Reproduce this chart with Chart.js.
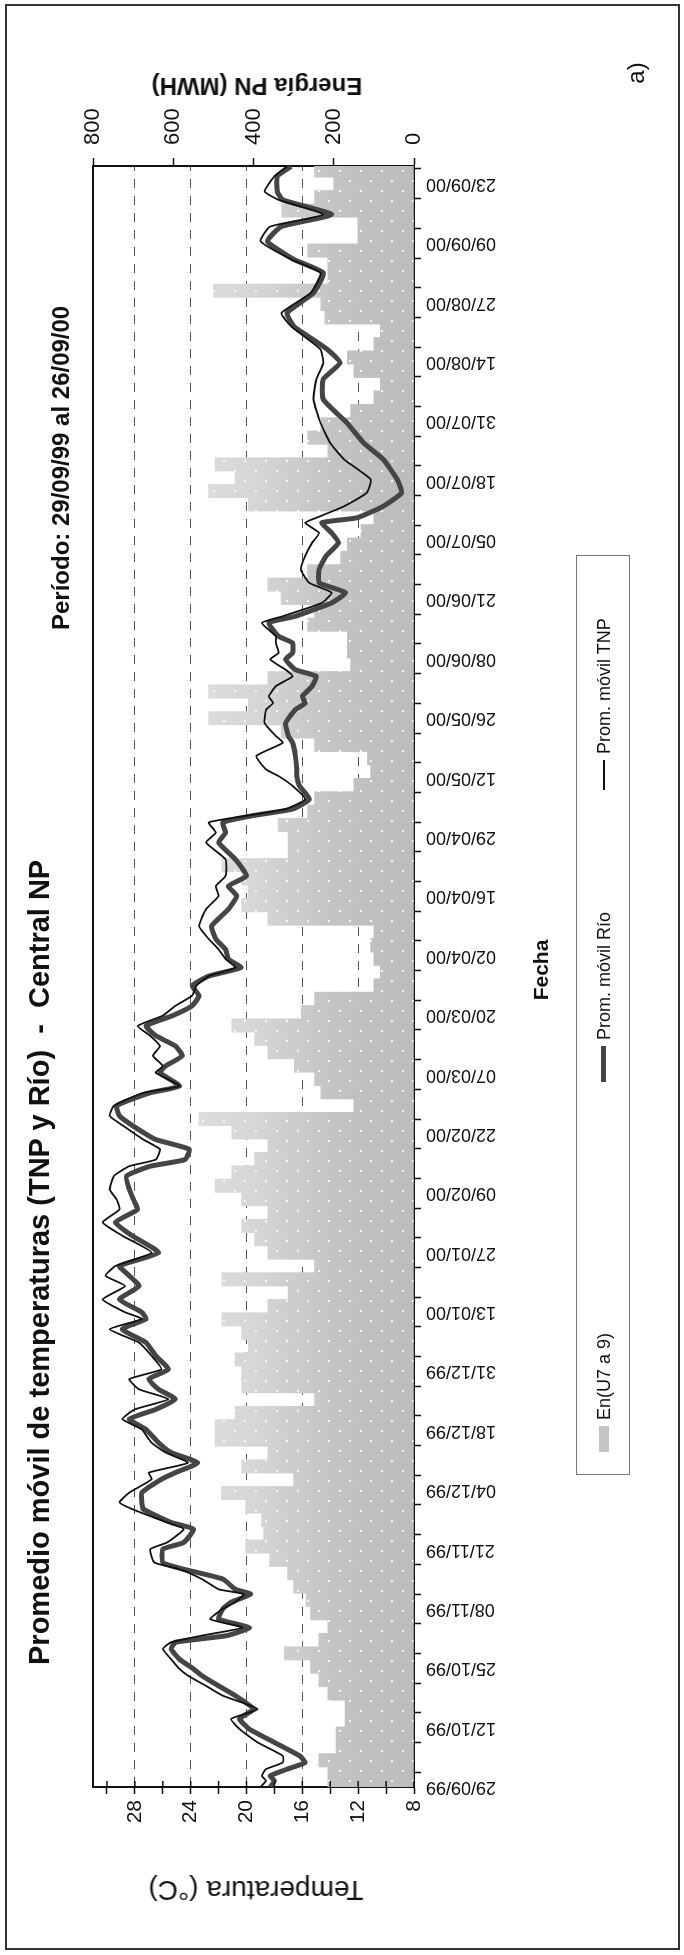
<!DOCTYPE html>
<html>
<head>
<meta charset="utf-8">
<script src="https://cdn.jsdelivr.net/npm/chart.js@4.4.0/dist/chart.umd.min.js"></script>
<style>
  html, body { margin: 0; padding: 0; background: #fff; }
  body { width: 684px; height: 1955px; overflow: hidden; position: relative;
         font-family: "Liberation Sans", Arial, sans-serif; color: #111; }
  /* la hoja se dibuja apaisada y se gira 90° a la izquierda */
  #hoja { position: absolute; left: 0; top: 0; width: 1955px; height: 684px;
          transform-origin: 0 0; transform: translate(0, 1955px) rotate(-90deg); }
  #marco { position: absolute; left: 5px; top: 5px; width: 1946px; height: 675px;
           box-sizing: border-box; border: 2px solid #333; }
  canvas { position: absolute; left: 0; top: 0; }
  .t { position: absolute; white-space: nowrap; }
  #titulo { left: 290px; top: 39px; transform: translateY(-50%); font-weight: bold; font-size: 29px; }
  #periodo { left: 1325px; top: 61px; transform: translateY(-50%); font-weight: bold; font-size: 24px; }
  #tituloTemp { left: 65px; top: 256px; transform: translate(-50%, -50%) rotate(-90deg); font-size: 28px; }
  #tituloEner { left: 1869px; top: 257px; transform: translate(-50%, -50%) rotate(-90deg); font-weight: bold; font-size: 24px; }
  #fecha { left: 985px; top: 541px; transform: translate(-50%, -50%); font-weight: bold; font-size: 21px; }
  #marca { left: 1882px; top: 636px; transform: translate(-50%, -50%); font-size: 24px; }
  #leyenda { position: absolute; left: 480px; top: 576px; width: 920px; height: 54px;
             box-sizing: border-box; border: 1px solid #777; font-size: 18px; }
  #leyenda .t { top: 27px; transform: translateY(-50%); }
  .sw { position: absolute; }
</style>
</head>
<body>
<div id="hoja">
  <div id="marco"></div>
  <canvas id="grafico" width="1955" height="684"></canvas>
  <div class="t" id="titulo">Promedio móvil de temperaturas (TNP y Río)&nbsp;&nbsp;-&nbsp;&nbsp;Central NP</div>
  <div class="t" id="periodo">Período: 29/09/99 al 26/09/00</div>
  <div class="t" id="tituloTemp">Temperatura (°C)</div>
  <div class="t" id="tituloEner">Energía PN (MWH)</div>
  <div class="t" id="fecha">Fecha</div>
  <div class="t" id="marca">a)</div>
  <div id="leyenda">
    <div class="sw" style="left:22px; top:22px; width:26px; height:10px; background:#c4c4c4;"></div>
    <div class="t" style="left:54px;">En(U7 a 9)</div>
    <div class="sw" style="left:392px; top:24px; width:36px; height:5px; background:#454545;"></div>
    <div class="t" style="left:434px;">Prom. móvil Río</div>
    <div class="sw" style="left:684px; top:26px; width:30px; height:2px; background:#111;"></div>
    <div class="t" style="left:720px;">Prom. móvil TNP</div>
  </div>
</div>
<script>
// etiquetas del eje de fechas (una cada 40 registros = 13,33 días)
const etiquetasFecha = ["29/09/99", "12/10/99", "25/10/99", "08/11/99", "21/11/99", "04/12/99",
  "18/12/99", "31/12/99", "13/01/00", "27/01/00", "09/02/00", "22/02/00", "07/03/00", "20/03/00",
  "02/04/00", "16/04/00", "29/04/00", "12/05/00", "26/05/00", "08/06/00", "21/06/00", "05/07/00",
  "18/07/00", "31/07/00", "14/08/00", "27/08/00", "09/09/00", "23/09/00"];
const diasPorEtiqueta = 40 / 3;

const ticksTemp = [8, 10, 12, 14, 16, 18, 20, 22, 24, 26, 28, 30];
const etiquetasTemp = [8, 12, 16, 20, 24, 28];
const lineasTemp = [12, 16, 20, 24, 28];

// días desde el 29/09/99 en que se leyeron los promedios móviles
const diasTemp = [0, 1.4, 2.5, 4, 5.5, 7, 10, 13, 15.3, 17.5, 20.5, 22.7, 25, 26.5, 28.7, 31, 32.5,
  34, 35.8, 37.7, 40, 41.5, 43.3, 44.4, 46.7, 48.9, 50.4, 53.4, 54.9, 57.9, 59.4, 62.4, 63.9,
  66.1, 69.1, 70.6, 72.8, 75.1, 77.3, 80.3, 82.6, 84.8, 87.1, 89.3, 91.6, 93.8, 96.8, 99.8,
  102.8, 105.1, 106.6, 109.5, 112.5, 114.8, 117, 120, 123.8, 126.8, 129.7,
  131.9, 134.2, 137.2, 139.4, 140.9, 143.2, 145.4, 148.4, 150.7, 153, 155.9, 157.4, 160.4,
  161.9, 164.2, 166.4, 168.7, 170.9, 173.2, 175.4, 177.7, 179.9, 182.1, 184, 185.9, 188.1,
  190.4, 193.3, 197.1, 200.1, 202.3, 204.6, 208.3,
  212.1, 214.3, 216.6, 218.1, 219.6, 221.8, 224.8, 227, 228.5, 231.5, 234.5, 236, 238.9,
  241.9, 243.4, 244.9, 247.2, 249.4, 250.9, 253.2, 254.7, 256.9, 258.4, 261.4, 262.9,
  265.9, 268.2, 270.4, 273.4, 276.4, 279.4, 281.6, 283.9,
  285, 287.6, 290.6, 293.6, 298.1, 301.8, 306.3, 311.6, 316.1, 319.8, 322.8, 325.8, 328,
  331, 335.5, 340, 343, 347.1, 350.4, 353.1, 356.4, 358.3, 361.7, 363.9];

const tempTNP = [19.0, 18.6, 18.9, 18.6, 17.4, 17.4, 19.2, 20.5, 21.1, 19.2, 21.7, 22.9, 24.2, 24.8, 25.4, 26.0, 25.4,
  23.2, 20.3, 22.6, 21.7, 20.8, 20.2, 22.0, 23.2, 24.8, 26.6, 26.9, 25.7, 24.5, 25.7, 28.2, 29.1,
  28.4, 26.8, 27.0, 24.2, 25.8, 26.8, 27.5, 28.9, 28.0, 25.6, 27.7, 28.4, 26.1, 26.8, 27.7,
  29.8, 27.5, 28.7, 30.3, 28.7, 30.1, 29.4, 26.8, 28.9, 30.3, 29.1,
  29.3, 29.8, 29.5, 28.4, 26.5, 26.2, 27.4, 28.8, 29.8, 29.5, 27.4, 24.8, 26.5,
  26.0, 26.7, 26.2, 26.9, 27.8, 26.0, 25.1, 23.9, 23.6, 22.7, 20.8, 21.5, 22.0,
  22.7, 23.4, 22.9, 22.0, 22.2, 21.5, 21.5,
  22.9, 22.2, 22.7, 20.0, 17.2, 15.8, 16.7, 17.7, 18.6, 19.3, 17.4, 17.9, 18.7,
  18.6, 18.1, 18.4, 17.9, 16.7, 17.2, 18.3, 17.7, 17.9, 17.9, 18.9, 17.4,
  14.6, 13.9, 15.5, 16.1, 15.8, 15.3, 14.8, 15.8,
  15.0, 13.0, 11.4, 11.1, 13.0, 14.0, 14.7, 15.2, 15.0, 14.5, 14.7, 15.9, 16.8,
  17.5, 15.4, 14.7, 16.8, 19.0, 18.3, 14.5, 17.7, 18.7, 18.0, 17.1];

const tempRio = [18.3, 18.0, 18.3, 17.1, 15.8, 16.2, 18.0, 19.8, 20.5, 19.5, 20.8, 22.0, 23.2, 23.8, 24.8, 25.4, 25.1,
  21.4, 19.8, 22.0, 21.7, 21.1, 19.7, 20.8, 21.7, 24.5, 26.0, 26.0, 24.5, 23.8, 25.4, 27.4, 27.5,
  27.5, 26.1, 25.1, 23.5, 25.4, 26.3, 27.2, 28.4, 26.5, 25.1, 26.3, 27.0, 25.6, 26.5, 27.2,
  28.9, 27.2, 27.5, 29.1, 27.7, 28.4, 29.1, 26.3, 28.2, 29.4, 27.8,
  28.1, 28.4, 28.6, 26.9, 24.4, 24.1, 26.5, 28.1, 29.1, 29.3, 26.9, 24.8, 26.2,
  25.8, 24.6, 25.1, 26.5, 27.2, 25.3, 23.9, 23.4, 23.9, 22.7, 20.4, 21.3, 21.5,
  22.2, 22.5, 21.3, 20.7, 21.3, 20.0, 20.8,
  22.0, 21.5, 21.7, 19.6, 16.7, 15.5, 16.2, 16.4, 16.4, 16.5, 16.7, 17.0, 17.2,
  16.5, 15.8, 16.0, 15.3, 15.0, 16.5, 17.2, 16.7, 16.7, 17.7, 18.4, 16.5,
  13.9, 12.9, 14.8, 14.8, 14.3, 13.4, 13.9, 14.6,
  12.1, 10.2, 8.9, 9.2, 10.2, 11.6, 12.8, 14.5, 14.5, 13.3, 14.2, 15.6, 16.6,
  17.1, 15.2, 14.5, 16.6, 18.5, 17.5, 13.9, 17.4, 17.8, 17.8, 16.8];

// energía PN (MWH), una lectura cada 3 días desde el 29/09/99
const pasoEnergia = 3;
const energiaPN = [215, 215, 237, 194, 194, 172, 172, 215, 237, 258,
  323, 237, 215, 258, 269, 300, 315, 360, 420, 375,
  380, 420, 480, 300, 430, 364, 496, 496, 446, 248,
  430, 430, 446, 413, 430, 479, 364, 314, 479, 248,
  364, 397, 430, 364, 430, 496, 454, 397, 364, 454,
  536, 150, 232, 248, 298, 364, 397, 454, 281, 248,
  100, 84, 100, 108, 100, 364, 430, 413, 430, 479,
  314, 314, 339, 265, 248, 150, 108, 116, 248, 331,
  512, 413, 512, 364, 158, 166, 166, 265, 248, 331,
  364, 265, 183, 166, 132, 100, 413, 512, 446, 496,
  215, 265, 232, 158, 100, 84, 150, 166, 100, 84,
  222, 232, 500, 215, 215, 265, 140, 140, 330, 248,
  200, 248];

const ticksFecha = [];
for (let k = 0; k * diasPorEtiqueta / 2 <= 364; k++) ticksFecha.push(k * diasPorEtiqueta / 2);

Chart.defaults.font.family = '"Liberation Sans", Arial, sans-serif';
Chart.defaults.color = "#111";

const canvas = document.getElementById("grafico");
const ctx = canvas.getContext("2d");

// trama de las barras: gris más claro hacia la punta, con puntos blancos
const tc = document.createElement("canvas");
tc.width = 20; tc.height = 684;
const t = tc.getContext("2d");
const deg = t.createLinearGradient(0, 414, 0, 150);
deg.addColorStop(0, "#bcbcbc");
deg.addColorStop(0.3, "#c3c3c3");
deg.addColorStop(0.6, "#d6d6d6");
deg.addColorStop(1, "#e2e2e2");
t.fillStyle = deg; t.fillRect(0, 0, 20, 684);
t.fillStyle = "#f6f6f6";
for (let y = 0; y < 684; y += 21) { t.fillRect(3, y + 3, 2, 2); t.fillRect(13, y + 13, 2, 2); }
const trama = ctx.createPattern(tc, "repeat-x");

// marcas del eje de temperatura que entran en el área del gráfico
const ticksInteriores = {
  id: "ticksInteriores",
  afterDatasetsDraw(chart) {
    const s = chart.scales.y, c = chart.ctx;
    c.save();
    c.strokeStyle = "#111"; c.lineWidth = 1.5;
    s.ticks.forEach(tk => {
      const py = s.getPixelForValue(tk.value);
      c.beginPath(); c.moveTo(s.right, py); c.lineTo(s.right + 6, py); c.stroke();
    });
    c.restore();
  }
};

new Chart(ctx, {
  type: "bar",
  data: {
    datasets: [
      {
        type: "line", label: "Prom. móvil TNP", yAxisID: "y", order: 1,
        data: diasTemp.map((d, i) => ({ x: d, y: tempTNP[i] })),
        borderColor: "#111", borderWidth: 1.8, pointRadius: 0, tension: 0.15
      },
      {
        type: "line", label: "Prom. móvil Río", yAxisID: "y", order: 2,
        data: diasTemp.map((d, i) => ({ x: d, y: tempRio[i] })),
        borderColor: "#454545", borderWidth: 5, pointRadius: 0, tension: 0.15
      },
      {
        type: "bar", label: "En(U7 a 9)", yAxisID: "y2", order: 3,
        data: energiaPN.map((v, i) => ({ x: i * pasoEnergia, y: v })),
        backgroundColor: trama, borderWidth: 0, barPercentage: 1, categoryPercentage: 1
      }
    ]
  },
  options: {
    responsive: false, animation: false,
    layout: { padding: { left: 108, right: 106, top: 93, bottom: 170 } },
    plugins: { legend: { display: false }, title: { display: false }, tooltip: { enabled: false } },
    scales: {
      x: {
        type: "linear", position: "bottom", min: 0, max: 364, offset: false,
        afterBuildTicks: s => { s.ticks = ticksFecha.map(v => ({ value: v })); },
        afterFit: s => { s.height = 100; },
        ticks: {
          autoSkip: false, minRotation: 90, maxRotation: 90, padding: 5, font: { size: 18 },
          callback: (v, i) => (i % 2 === 0 ? etiquetasFecha[i / 2] : "")
        },
        grid: { drawOnChartArea: false, tickLength: 7, tickColor: "#111", tickWidth: 1.5 },
        border: { display: true, color: "#111", width: 2 }
      },
      xTop: {
        type: "linear", position: "top", min: 0, max: 364, offset: false,
        afterFit: s => { s.height = 0; },
        ticks: { display: false }, grid: { display: false, drawTicks: false },
        border: { display: true, color: "#111", width: 2 }
      },
      y: {
        type: "linear", position: "left", min: 8, max: 31,
        afterBuildTicks: s => { s.ticks = ticksTemp.map(v => ({ value: v })); },
        afterFit: s => { s.width = 60; },
        ticks: { padding: 6, font: { size: 21 }, callback: v => (etiquetasTemp.includes(v) ? v : "") },
        grid: {
          color: c => (c.tick && lineasTemp.includes(c.tick.value) ? "#555" : "rgba(0,0,0,0)"),
          lineWidth: 1, tickLength: 7, tickColor: "#111", tickWidth: 1.5
        },
        border: { display: true, color: "#111", width: 2, dash: [9, 8] }
      },
      y2: {
        type: "linear", position: "right", min: 0, max: 800,
        afterFit: s => { s.width = 60; },
        ticks: { stepSize: 200, padding: 13, font: { size: 22 } },
        grid: { drawOnChartArea: false, tickLength: 8, tickColor: "#111", tickWidth: 1.5 },
        border: { display: true, color: "#111", width: 2 }
      }
    }
  },
  plugins: [ticksInteriores]
});
</script>
</body>
</html>
